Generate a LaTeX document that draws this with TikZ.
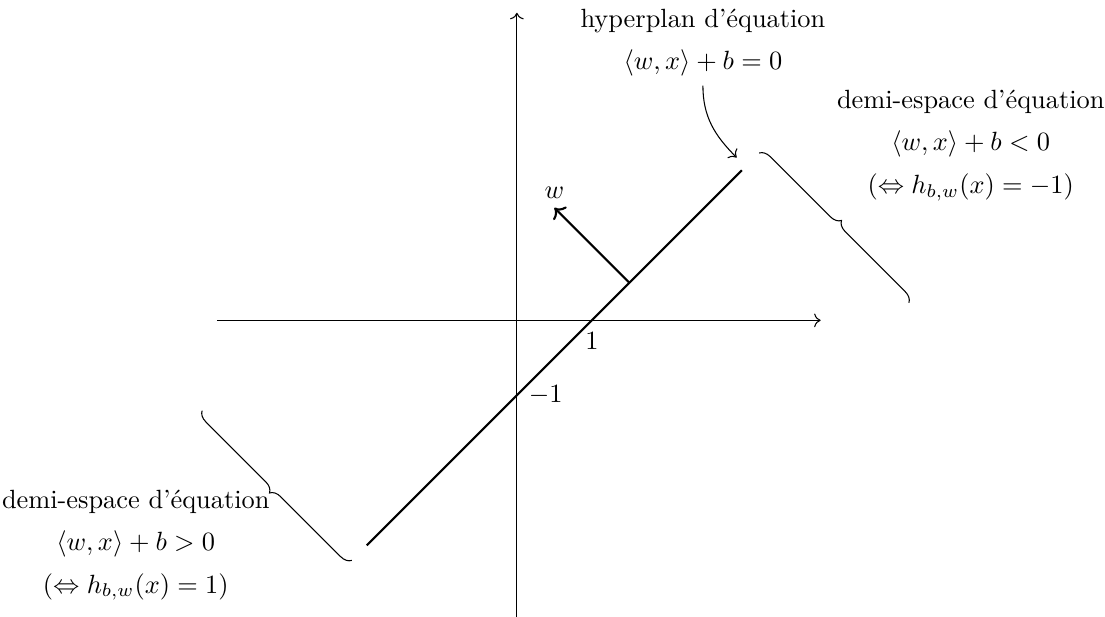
\documentclass[tikz,border=0pt]{standalone}
\usepackage{amsmath,amssymb}
\usetikzlibrary{arrows.meta,positioning,decorations.pathreplacing}

\begin{document}
\begin{tikzpicture}[every node/.style={font=\fontsize{10}{16}\selectfont, align=center},
    accolade/.style={decorate, decoration={brace, amplitude=4pt}}]
        \useasboundingbox (-6.89,-3.95) rectangle (7.84,4.27);
        % axes
        \draw[->] (-4,0) -- (4.05,0);
        \draw[->] (0,-4) -- (0,4.1);
        \node[below=1pt] (un) at (1,0) {$1$};
        \node[right=1pt] (moinsun) at (0,-1) {$-1$};
        % hyperplan et vecteur normal
        \coordinate (bas) at (-2,-3);
        \coordinate (haut) at (3,2);
        \draw[thick] (bas) -- (haut);
        \coordinate (pied) at (1.5,0.5);
        \coordinate (bout) at (0.5,1.5);
        \draw[thick, ->] (pied) -- (bout);
        \node[above=0pt of bout] (w) {$w$};
        % textes
        \node (hyp) at (2.48,3.7) {hyperplan d'équation\\ $\langle w, x\rangle + b = 0$};
        \coordinate (cible) at (2.93,2.17);
        \draw[->] (hyp.south) to[out=-90, in=135] (cible);
        \node (neg) at (6.05,2.33) {demi-espace d'équation\\ $\langle w, x\rangle + b < 0$\\ $(\Leftrightarrow h_{b,w}(x) = -1)$};
        \node (pos) at (-5.08,-3.0) {demi-espace d'équation\\ $\langle w, x\rangle + b > 0$\\ $(\Leftrightarrow h_{b,w}(x) = 1)$};
        % accolades
        \draw[accolade] (3.23,2.23) -- (5.23,0.23);
        \draw[accolade] (-2.2,-3.2) -- (-4.2,-1.2);
    \end{tikzpicture}
\end{document}
